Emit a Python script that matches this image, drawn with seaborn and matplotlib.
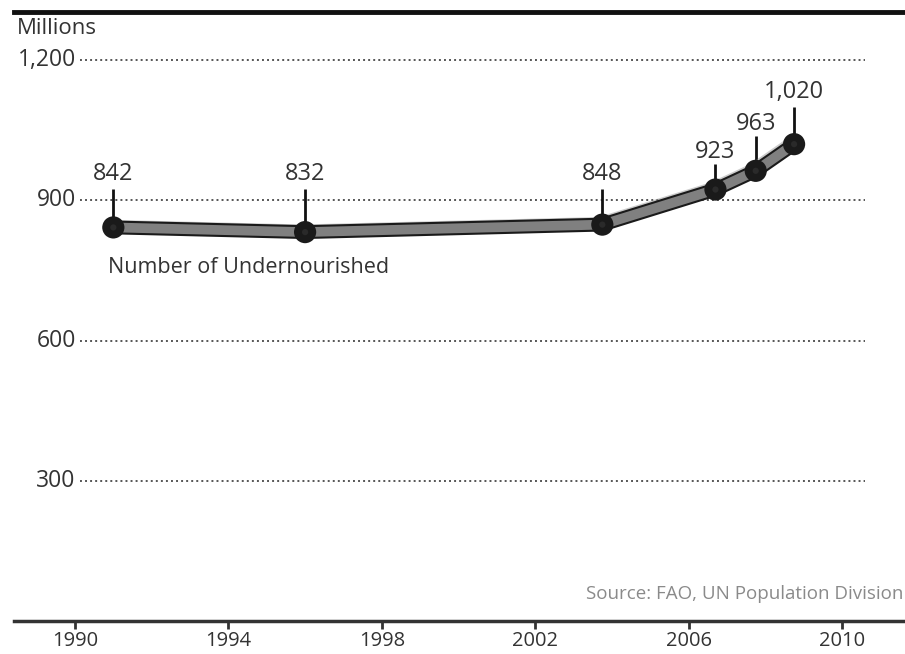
import matplotlib
matplotlib.use("Agg")
import matplotlib.pyplot as plt
import matplotlib.patheffects as pe
import seaborn as sns
import pandas as pd

# ---- data ----
years = [1991.0, 1996.0, 2003.75, 2006.7, 2007.75, 2008.75]
values = [842, 832, 848, 923, 963, 1020]
value_labels = ["842", "832", "848", "923", "963", "1,020"]
y_ticks = [300, 600, 900, 1200]
y_tick_labels = ["300", "600", "900", "1,200"]
x_ticks = [1990, 1994, 1998, 2002, 2006, 2010]
x_tick_labels = ["1990", "1994", "1998", "2002", "2006", "2010"]
series_label = "Number of Undernourished"
unit_label = "Millions"
source_label = "Source: FAO, UN Population Division"

# ---- layout (label heights in data units) ----
label_y = [956, 956, 956, 1003, 1063, 1131]
leader_top = [924, 924, 924, 977, 1037, 1099]

sns.set_theme(style="white")
plt.rcParams["font.family"] = ["Open Sans", "DejaVu Sans"]
txt = "#333333"

W, H = 905, 654
fig = plt.figure(figsize=(W / 100, H / 100), dpi=100)
ax = fig.add_axes([14 / W, 1 - 621.3 / H, (903 - 14) / W, (621.3 - 12) / H])
ax.set_facecolor("white")

ax.set_xlim(1988.41, 2011.59)
ax.set_ylim(0, 1302.5)

# grid lines
ax.hlines(y_ticks, 1990.13, 2010.6, colors="#555555", linewidth=1.4,
          linestyles=(0, (1, 1.6)), zorder=1)
for v, lab in zip(y_ticks, y_tick_labels):
    ax.text(1990.02, v, lab, ha="right", va="center", fontsize=16.5, color=txt)

# leader lines
ax.vlines(years, values, leader_top, colors="#111111", linewidth=2, zorder=2)

df = pd.DataFrame({"year": years, "value": values})
sns.lineplot(data=df, x="year", y="value", ax=ax, color="#808080", linewidth=7,
             marker="o", markersize=6, markerfacecolor="#2a2a2a",
             markeredgecolor="#1a1a1a", markeredgewidth=1.5, zorder=3,
             path_effects=[pe.SimpleLineShadow(offset=(-2, 2), shadow_color="#999999", alpha=0.5),
                           pe.Stroke(linewidth=10, foreground="#1a1a1a"), pe.Normal()])

for x, ly, lab in zip(years, label_y, value_labels):
    ax.text(x, ly, lab, ha="center", va="center", fontsize=17, color=txt, zorder=4)

ax.text(1990.86, 757, series_label, ha="left", va="center", fontsize=15.5, color=txt)

# spines & ticks
for s in ["left", "right"]:
    ax.spines[s].set_visible(False)
ax.spines["top"].set_color("#111111")
ax.spines["top"].set_linewidth(3.5)
ax.spines["bottom"].set_color("#333333")
ax.spines["bottom"].set_linewidth(2.5)
ax.set_yticks([])
ax.set_xticks(x_ticks)
ax.set_xticklabels(x_tick_labels, fontsize=14.5, color=txt)
ax.tick_params(axis="x", direction="out", length=6, width=2, color="#333333", pad=1, bottom=True)
ax.set_xlabel("")
ax.set_ylabel("")

fig.text(17 / W, 1 - 28 / H, unit_label, ha="left", va="center", fontsize=16, color=txt)
fig.text(903 / W, 1 - 594 / H, source_label, ha="right", va="center", fontsize=13.5, color="#8a8a8a")

fig.savefig("out.png", dpi=100)
